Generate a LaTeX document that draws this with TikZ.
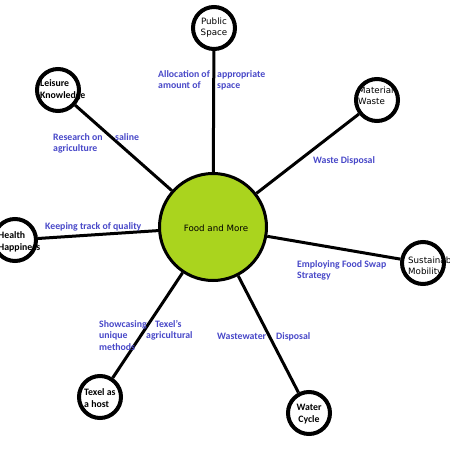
\documentclass[tikz,border=0pt]{standalone}
\usepackage{fontspec}
\setmainfont{Carlito}
\newfontfamily\tahoma{DejaVu Sans}
\usetikzlibrary{positioning}
\definecolor{hubgreen}{RGB}{170,212,30}
\definecolor{noteblue}{RGB}{72,72,200}

\begin{document}
\begin{tikzpicture}[x=1pt, y=-1pt, hub/.style={circle, draw, line width=3pt, fill=hubgreen, minimum size=107pt, inner sep=0pt},ring/.style={circle, draw, line width=4pt, fill=white, minimum size=42pt, inner sep=0pt},plaintxt/.style={inner sep=0pt, align=left, font=\tahoma\fontsize{8.7}{11}\selectfont},boldtxt/.style={inner sep=0pt, align=left, font=\bfseries\fontsize{9.8}{12}\selectfont},note/.style={anchor=north west, inner sep=0pt, align=left, text=noteblue, font=\bfseries\fontsize{9.8}{11.5}\selectfont},link/.style={line width=3pt}]
  \useasboundingbox (0,0) rectangle (450,450);

  \node[hub] (food) at (213,227) {};
  \node[plaintxt] (food-txt) at (216,228) {Food and More};

  \node[ring] (ps) at (214,28) {};
  \node[ring] (lk) at (58,90) {};
  \node[ring] (mw) at (377,100) {};
  \node[ring] (hh) at (15,240) {};
  \node[ring] (sm) at (423,263) {};
  \node[ring] (th) at (100,397) {};
  \node[ring] (wc) at (309,413) {};

  \draw[link] (food) -- (ps);
  \draw[link] (food) -- (lk);
  \draw[link] (food) -- (mw);
  \draw[link] (food) -- (hh);
  \draw[link] (food) -- (sm);
  \draw[link] (food) -- (th);
  \draw[link] (food) -- (wc);

  \node[plaintxt, align=center] (ps-txt) at (214,28) {Public\\Space};
  \node[boldtxt, right=5pt of lk.west] (lk-txt) {Leisure\\Knowledge};
  \node[plaintxt, right=4pt of mw.west, yshift=4pt] (mw-txt) {Material\\Waste};
  \node[boldtxt, right=6pt of hh.west, yshift=-2pt] (hh-txt) {Health\\Happiness};
  \node[plaintxt, right=8pt of sm.west, yshift=-4pt] (sm-txt) {Sustainable\\Mobility};
  \node[boldtxt, right=7pt of th.west, yshift=-1pt] (th-txt) {Texel as\\a host};
  \node[boldtxt, align=center] (wc-txt) at (309,414) {Water\\Cycle};

  \node[note] (n-ps) at (158,70) {\makebox[59pt][l]{Allocation of}appropriate\\\makebox[59pt][l]{amount of}space};
  \node[note] (n-lk) at (53,133) {\makebox[62pt][l]{Research on}saline\\agriculture};
  \node[note] (n-mw) at (313,156) {Waste Disposal};
  \node[note] (n-hh) at (45,222) {Keeping track of quality};
  \node[note] (n-sm) at (297,260) {Employing Food Swap\\Strategy};
  \node[note] (n-th) at (99,320) {\makebox[56pt][l]{Showcasing}Texel's\\\makebox[47pt][l]{unique}agricultural\\methods};
  \node[note] (n-wc) at (217,332) {\makebox[59pt][l]{Wastewater}Disposal};
\end{tikzpicture}
\end{document}
